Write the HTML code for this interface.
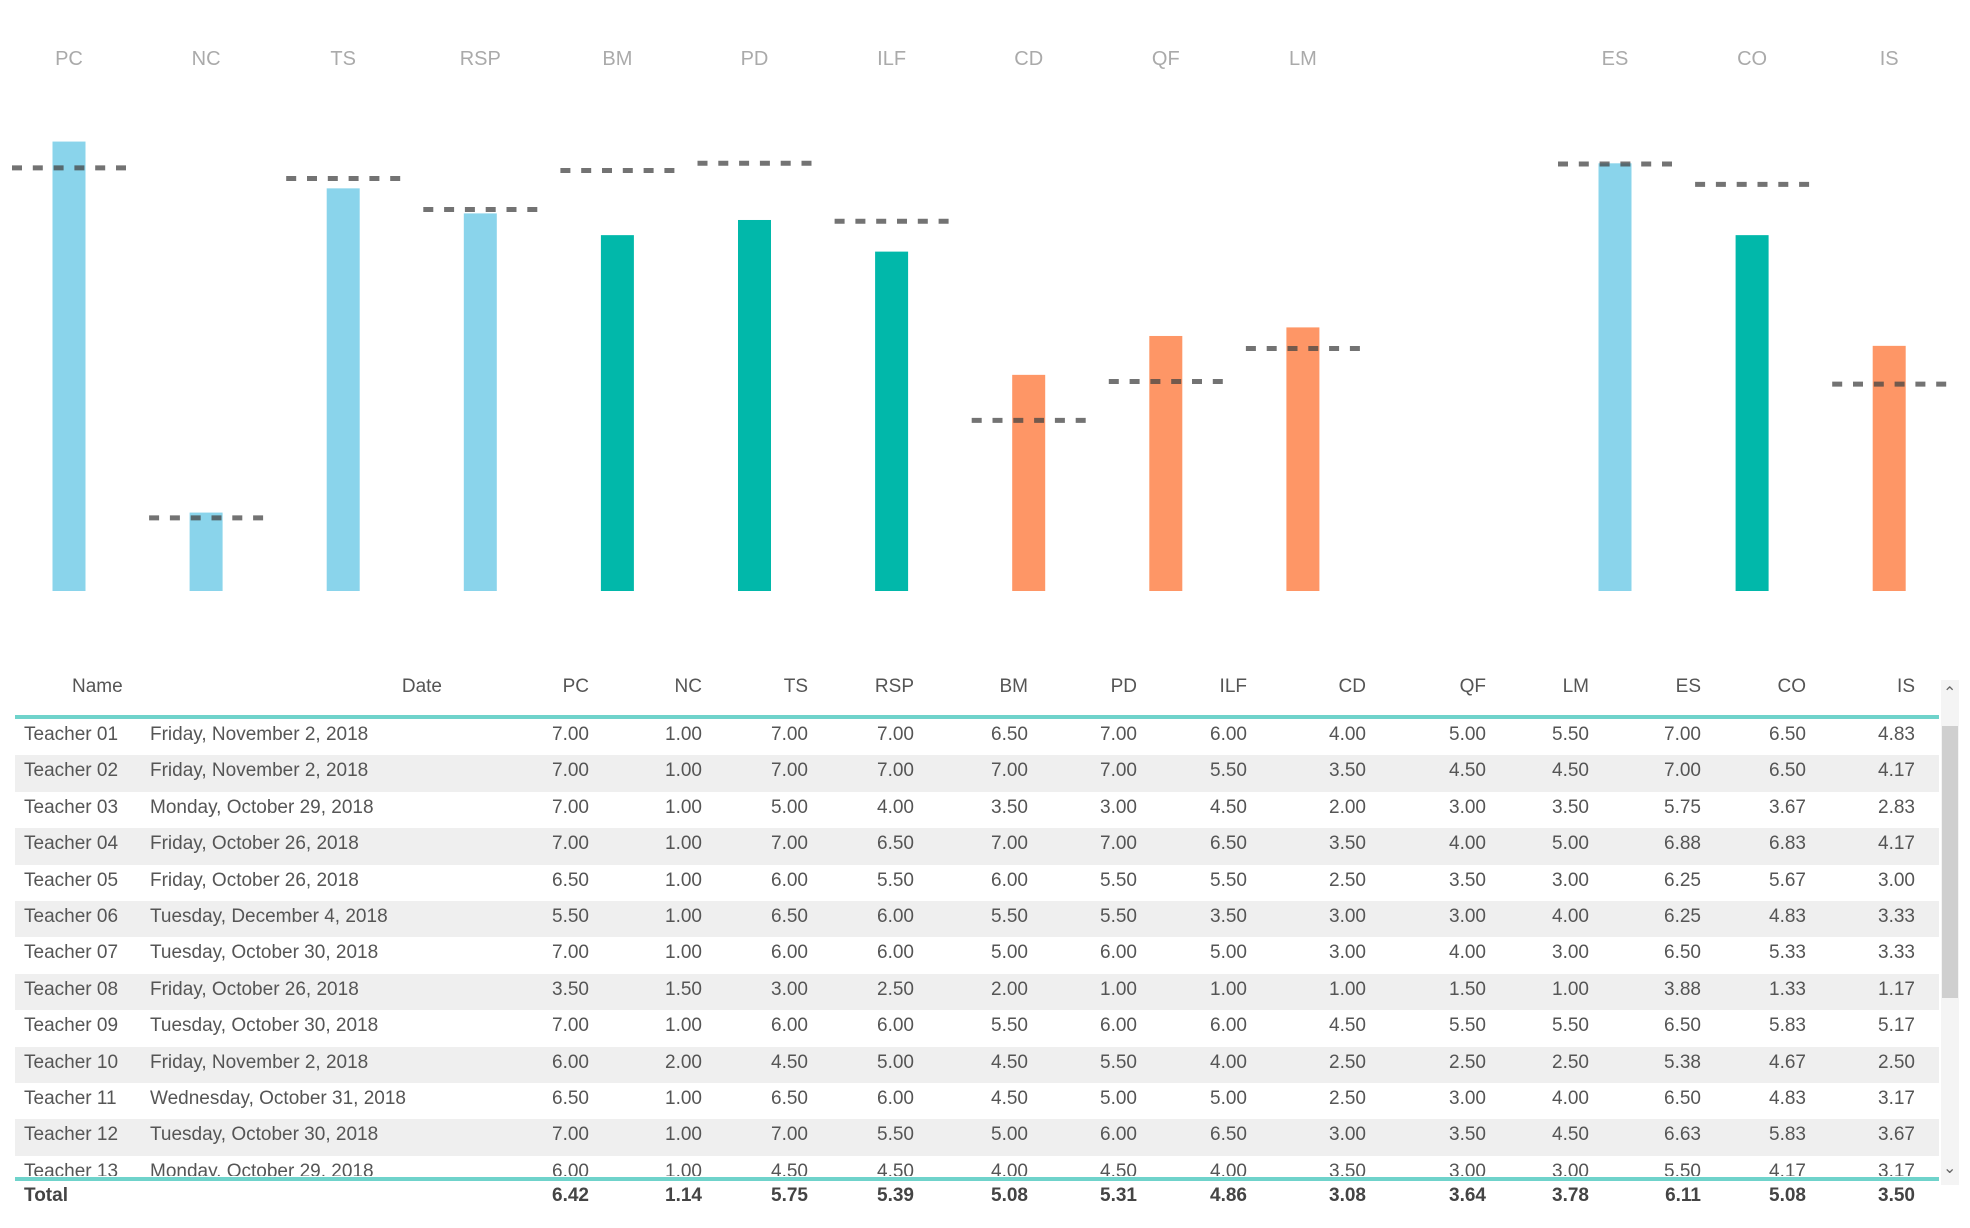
<!DOCTYPE html>
<html><head><meta charset="utf-8">
<style>
html,body{margin:0;padding:0;background:#fff;}
body{width:1970px;height:1228px;position:relative;overflow:hidden;font-family:"Liberation Sans",sans-serif;}
#chart{position:absolute;left:0;top:0;}
.cell{position:absolute;white-space:nowrap;font-size:19px;color:#555;}
.hdr{position:absolute;white-space:nowrap;font-size:19px;color:#555;top:676px;}
#rows{position:absolute;left:15px;top:719px;width:1924px;height:457px;overflow:hidden;}
.row{position:absolute;left:0;width:1924px;height:36.4px;}
</style></head>
<body>
<svg id="chart" width="1970" height="640"></svg>
<div id="table">
  <div id="hdrs"></div>
  <div style="position:absolute;left:15px;top:715px;width:1924px;height:4px;background:#6fd3cb"></div>
  <div id="rows"></div>
  <div style="position:absolute;left:15px;top:1177px;width:1924px;height:4px;background:#6fd3cb"></div>
  <div id="total"></div>
  <div style="position:absolute;left:1941px;top:680px;width:18px;height:505px;background:#f4f4f4"></div>
  <div style="position:absolute;left:1942px;top:726px;width:16px;height:272px;background:#cfcfcf"></div>
  <div style="position:absolute;left:1943px;top:683px;font-size:16px;color:#666">&#8963;</div>
  <div style="position:absolute;left:1943px;top:1158px;font-size:16px;color:#666">&#8964;</div>
</div>
<script>
const categories = ["PC","NC","TS","RSP","BM","PD","ILF","CD","QF","LM","ES","CO","IS"];
const barValues = [6.82,1.19,6.11,5.73,5.40,5.63,5.15,3.28,3.87,4.00,6.49,5.40,3.72];
const targetValues = [6.42,1.11,6.26,5.79,6.38,6.49,5.61,2.59,3.18,3.68,6.48,6.17,3.14];
const barColors = ["#8AD4EB","#8AD4EB","#8AD4EB","#8AD4EB","#01B8AA","#01B8AA","#01B8AA","#FE9666","#FE9666","#FE9666","#8AD4EB","#01B8AA","#FE9666"];

const names = ["Teacher 01","Teacher 02","Teacher 03","Teacher 04","Teacher 05","Teacher 06","Teacher 07","Teacher 08","Teacher 09","Teacher 10","Teacher 11","Teacher 12","Teacher 13"];
const dates = ["Friday, November 2, 2018","Friday, November 2, 2018","Monday, October 29, 2018","Friday, October 26, 2018","Friday, October 26, 2018","Tuesday, December 4, 2018","Tuesday, October 30, 2018","Friday, October 26, 2018","Tuesday, October 30, 2018","Friday, November 2, 2018","Wednesday, October 31, 2018","Tuesday, October 30, 2018","Monday, October 29, 2018"];
const scores = [
["7.00","1.00","7.00","7.00","6.50","7.00","6.00","4.00","5.00","5.50","7.00","6.50","4.83"],
["7.00","1.00","7.00","7.00","7.00","7.00","5.50","3.50","4.50","4.50","7.00","6.50","4.17"],
["7.00","1.00","5.00","4.00","3.50","3.00","4.50","2.00","3.00","3.50","5.75","3.67","2.83"],
["7.00","1.00","7.00","6.50","7.00","7.00","6.50","3.50","4.00","5.00","6.88","6.83","4.17"],
["6.50","1.00","6.00","5.50","6.00","5.50","5.50","2.50","3.50","3.00","6.25","5.67","3.00"],
["5.50","1.00","6.50","6.00","5.50","5.50","3.50","3.00","3.00","4.00","6.25","4.83","3.33"],
["7.00","1.00","6.00","6.00","5.00","6.00","5.00","3.00","4.00","3.00","6.50","5.33","3.33"],
["3.50","1.50","3.00","2.50","2.00","1.00","1.00","1.00","1.50","1.00","3.88","1.33","1.17"],
["7.00","1.00","6.00","6.00","5.50","6.00","6.00","4.50","5.50","5.50","6.50","5.83","5.17"],
["6.00","2.00","4.50","5.00","4.50","5.50","4.00","2.50","2.50","2.50","5.38","4.67","2.50"],
["6.50","1.00","6.50","6.00","4.50","5.00","5.00","2.50","3.00","4.00","6.50","4.83","3.17"],
["7.00","1.00","7.00","5.50","5.00","6.00","6.50","3.00","3.50","4.50","6.63","5.83","3.67"],
["6.00","1.00","4.50","4.50","4.00","4.50","4.00","3.50","3.00","3.00","5.50","4.17","3.17"]];
const totals = ["6.42","1.14","5.75","5.39","5.08","5.31","4.86","3.08","3.64","3.78","6.11","5.08","3.50"];

// chart
const NS="http://www.w3.org/2000/svg";
const svg=document.getElementById('chart');
const baseY=591, unit=65.9, x0=69, step=137.1, gap=175, barW=33, dashW=114;
function xScale(i){return x0+i*step+(i>=10?gap:0);}
function yScale(v){return baseY-v*unit;}
categories.forEach((c,i)=>{
  const cx=xScale(i);
  const t=document.createElementNS(NS,'text');
  
  
  t.setAttribute('x',cx);t.setAttribute('y',65);t.setAttribute('text-anchor','middle');
  t.setAttribute('font-size','20');t.setAttribute('fill','#aaa');t.setAttribute('font-family','Liberation Sans, sans-serif');
  t.textContent=c;svg.appendChild(t);
  const r=document.createElementNS(NS,'rect');
  
  
  r.setAttribute('x',cx-barW/2);r.setAttribute('y',yScale(barValues[i]));
  r.setAttribute('width',barW);r.setAttribute('height',baseY-yScale(barValues[i]));
  r.setAttribute('fill',barColors[i]);svg.appendChild(r);
});
categories.forEach((c,i)=>{
  const cx=xScale(i), y=yScale(targetValues[i]);
  const l=document.createElementNS(NS,'line');
  
  
  l.setAttribute('x1',cx-dashW/2);l.setAttribute('x2',cx+dashW/2);
  l.setAttribute('y1',y);l.setAttribute('y2',y);
  l.setAttribute('stroke','#444');l.setAttribute('stroke-opacity','0.75');
  l.setAttribute('stroke-width','5');l.setAttribute('stroke-dasharray','10 10.8');
  svg.appendChild(l);
});

// table
const colRight=[589,702,808,914,1028,1137,1247,1366,1486,1589,1701,1806,1915];
const hdrs=document.getElementById('hdrs');
function hdr(txt,style,name){const d=document.createElement('div');d.className='hdr';d.textContent=txt;d.setAttribute('style',style);


hdrs.appendChild(d);}
hdr('Name','left:72px','name-column-header');
hdr('Date','right:'+(1970-442)+'px','date-column-header');
categories.forEach((c,i)=>hdr(c,'right:'+(1970-colRight[i])+'px',c.toLowerCase()+'-column-header'));
const rows=document.getElementById('rows');
names.forEach((n,r)=>{
  const row=document.createElement('div');row.className='row';
  
  
  row.style.top=(r*36.4)+'px';if(r%2==1)row.style.background='#efefef';
  let h='<div class="cell" style="left:9px;top:5px">'+n+'</div><div class="cell" style="left:135px;top:5px">'+dates[r]+'</div>';
  scores[r].forEach((v,i)=>{h+='<div class="cell" style="right:'+(1939-colRight[i])+'px;top:5px">'+v+'</div>';});
  row.innerHTML=h;rows.appendChild(row);
});
const tot=document.getElementById('total');
let th='<div class="cell" style="left:24px;top:1185px;font-weight:bold;color:#444">Total</div>';
totals.forEach((v,i)=>{th+='<div class="cell" style="right:'+(1970-colRight[i])+'px;top:1185px;font-weight:bold;color:#444">'+v+'</div>';});
tot.innerHTML=th;
</script>
</body></html>
